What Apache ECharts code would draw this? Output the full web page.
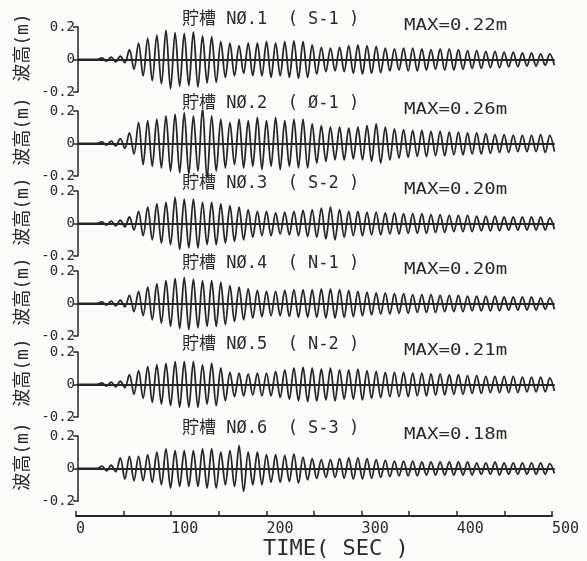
<!DOCTYPE html>
<html><head><meta charset="utf-8">
<script src="https://cdn.jsdelivr.net/npm/echarts@6/dist/echarts.min.js"></script>
<style>html,body{margin:0;padding:0;background:#fcfcfa}#c{width:587px;height:561px}</style>
</head><body><div id="c"></div>
<script>
// ---- data ----
const tankTitles = ['貯槽 NØ.1  ( S-1 )','貯槽 NØ.2  ( Ø-1 )','貯槽 NØ.3  ( S-2 )','貯槽 NØ.4  ( N-1 )','貯槽 NØ.5  ( N-2 )','貯槽 NØ.6  ( S-3 )'];
const maxLabels = ['MAX=0.22m','MAX=0.26m','MAX=0.20m','MAX=0.20m','MAX=0.21m','MAX=0.18m'];
const yTicks = [-0.2, 0, 0.2];
const timeTicks = [0, 100, 200, 300, 400, 500];
const yName = '波高(m)';
const xName = 'TIME( SEC )';
// sample times: first crest (sec) and oscillation period (sec)
const firstCrest = 25.2;
const period = 9.6;
// crest amplitude of each successive cycle (m)
const amp1 = [0.01,0.015,0.02,0.06,0.10,0.13,0.15,0.18,0.165,0.16,0.17,0.145,0.14,0.11,0.10,0.085,0.10,0.10,0.11,0.10,0.11,0.115,0.11,0.09,0.075,0.07,0.075,0.085,0.09,0.085,0.08,0.07,0.065,0.07,0.07,0.065,0.06,0.065,0.065,0.06,0.055,0.055,0.05,0.05,0.045,0.045,0.04,0.04,0.035,0.035];
const amp2 = [0.01,0.015,0.03,0.065,0.13,0.14,0.15,0.17,0.18,0.19,0.17,0.22,0.17,0.15,0.13,0.15,0.14,0.16,0.14,0.16,0.14,0.15,0.15,0.12,0.11,0.10,0.10,0.095,0.10,0.11,0.12,0.10,0.09,0.085,0.08,0.08,0.075,0.075,0.07,0.07,0.065,0.065,0.06,0.055,0.055,0.05,0.05,0.05,0.055,0.05];
const amp3 = [0.01,0.015,0.02,0.04,0.075,0.10,0.12,0.13,0.16,0.15,0.15,0.13,0.13,0.12,0.11,0.10,0.085,0.075,0.075,0.065,0.07,0.075,0.08,0.085,0.095,0.10,0.085,0.075,0.075,0.07,0.07,0.065,0.065,0.06,0.06,0.06,0.055,0.055,0.05,0.05,0.05,0.045,0.045,0.045,0.04,0.04,0.04,0.04,0.04,0.035];
const amp4 = [0.01,0.015,0.02,0.05,0.075,0.10,0.12,0.14,0.155,0.16,0.15,0.14,0.14,0.13,0.11,0.10,0.09,0.08,0.075,0.075,0.08,0.085,0.085,0.085,0.09,0.09,0.085,0.08,0.075,0.07,0.065,0.065,0.06,0.06,0.055,0.055,0.055,0.05,0.05,0.05,0.045,0.045,0.045,0.045,0.04,0.04,0.04,0.04,0.035,0.035];
const amp5 = [0.01,0.015,0.02,0.06,0.085,0.11,0.12,0.13,0.14,0.14,0.14,0.12,0.13,0.10,0.075,0.07,0.065,0.07,0.07,0.08,0.09,0.10,0.105,0.10,0.095,0.10,0.09,0.09,0.095,0.085,0.08,0.075,0.075,0.075,0.07,0.07,0.065,0.065,0.06,0.06,0.055,0.055,0.05,0.05,0.05,0.05,0.045,0.045,0.045,0.04];
const amp6 = [0.015,0.02,0.065,0.075,0.075,0.085,0.10,0.12,0.11,0.11,0.11,0.12,0.12,0.10,0.11,0.14,0.10,0.10,0.085,0.085,0.08,0.09,0.07,0.06,0.055,0.055,0.06,0.065,0.065,0.06,0.055,0.05,0.045,0.045,0.045,0.04,0.04,0.04,0.04,0.04,0.04,0.035,0.035,0.04,0.035,0.035,0.035,0.035,0.035,0.03];
const amps = [amp1, amp2, amp3, amp4, amp5, amp6];

// ---- layout ----
const tops = [27, 111, 191, 271, 352, 436];
const H = 65, L = 78, W = 476;
const ink = '#262626';
const mono = '"DejaVu Sans Mono", "Noto Sans CJK JP", monospace';

function wave(a) {
  const d = [[0, 0], [20.4, 0]];
  a.forEach((v, k) => {
    const t = firstCrest + k * period;
    d.push([t, v]);
    d.push([t + period / 2, -v]);
  });
  return d;
}

const grid = [], xAxis = [], yAxis = [], series = [], graphic = [];
tops.forEach((top, i) => {
  grid.push({left: L, top: top, width: W, height: H});
  xAxis.push({gridIndex: i, type: 'value', min: 0, max: 500,
    axisLine: {show: true, onZero: true, lineStyle: {color: ink, width: 2}},
    axisTick: {show: false}, axisLabel: {show: false}, splitLine: {show: false}});
  yAxis.push({gridIndex: i, type: 'value', min: yTicks[0], max: yTicks[2], interval: 0.2,
    axisLine: {show: true, lineStyle: {color: ink, width: 1.5}},
    axisTick: {show: true, length: 5, lineStyle: {color: ink, width: 1.5}},
    axisLabel: {margin: 3, color: '#2a2a2a', fontSize: 14, fontFamily: mono,
      formatter: v => Math.abs(v) < 1e-9 ? '0' : v.toFixed(1)},
    splitLine: {show: false}});
  series.push({type: 'line', xAxisIndex: i, yAxisIndex: i, data: wave(amps[i]),
    symbol: 'none', smooth: 0.35, lineStyle: {color: ink, width: 1.8}, z: 3, silent: true});
  graphic.push({type: 'text', x: 182, y: top - 7, style: {text: tankTitles[i], font: '17px ' + mono,
    fill: '#2a2a2a', align: 'left', verticalAlign: 'middle'}});
  graphic.push({type: 'text', x: 404, y: top - 1, scaleX: 1.27, style: {text: maxLabels[i], font: '15px ' + mono,
    fill: '#2a2a2a', align: 'left', verticalAlign: 'middle'}});
  graphic.push({type: 'text', x: 23, y: top + H / 2 - 12, rotation: Math.PI / 2, style: {text: yName,
    font: '18px ' + mono, fill: '#2a2a2a', align: 'center', verticalAlign: 'middle'}});
});
// bottom time axis
grid.push({left: 76, top: 515, width: W, height: 1});
xAxis.push({gridIndex: 6, type: 'value', min: timeTicks[0], max: timeTicks[timeTicks.length - 1], interval: 50,
  position: 'bottom',
  axisLine: {show: true, onZero: false, lineStyle: {color: ink, width: 2}},
  axisTick: {show: true, inside: true, length: 5, lineStyle: {color: ink, width: 1.5}},
  axisLabel: {show: true, margin: 6, align: 'left', color: '#2a2a2a', fontSize: 15, fontFamily: mono,
    formatter: v => timeTicks.includes(v) ? String(v) : ''},
  splitLine: {show: false}});
yAxis.push({gridIndex: 6, type: 'value', min: 0, max: 1, show: false});
series.push({type: 'line', xAxisIndex: 6, yAxisIndex: 6, data: [], symbol: 'none'});
graphic.push({type: 'text', x: 263, y: 549, style: {text: xName, font: '22px ' + mono,
  fill: '#2a2a2a', align: 'left', verticalAlign: 'middle'}});

const chart = echarts.init(document.getElementById('c'), null, {renderer: 'canvas'});
chart.setOption({backgroundColor: '#fcfcfa', animation: false, grid, xAxis, yAxis, series, graphic});
</script></body></html>
